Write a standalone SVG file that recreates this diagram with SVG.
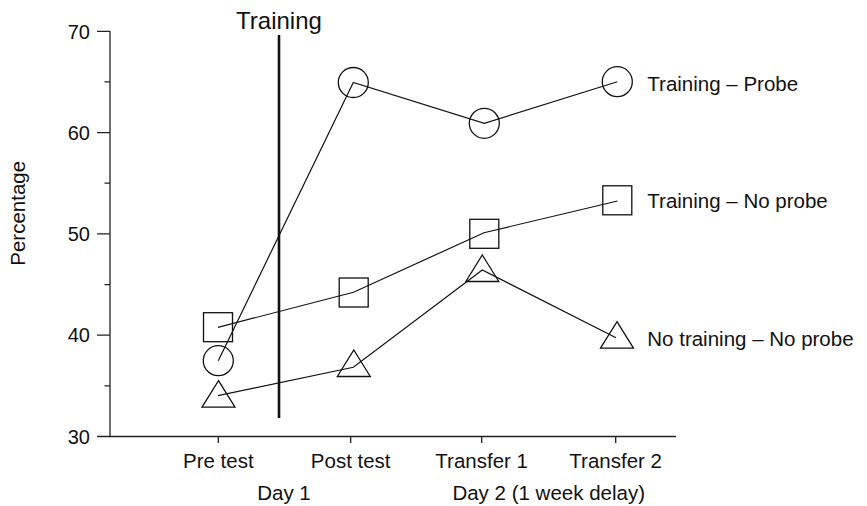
<svg xmlns="http://www.w3.org/2000/svg" width="867" height="506" viewBox="0 0 867 506">
<style>
text{font-family:"Liberation Sans",Arial,Helvetica,sans-serif;fill:#111}
.tick{font-size:20px}
.lbl{font-size:20.5px}
.axis{stroke:#222;stroke-width:1.3;fill:none}
.data{stroke:#111;stroke-width:1.2;fill:none}
.mk{stroke:#111;stroke-width:1.3;fill:none}
</style>
<defs>
<circle id="mc" r="15" class="mk"/>
<rect id="ms" x="-14.5" y="-14.5" width="29" height="29" class="mk"/>
<path id="mt" d="M0,-15 L16.5,11.5 L-16.5,11.5 Z" class="mk"/>
</defs>
<rect width="867" height="506" fill="#fff"/>
<g id="axes">
<path class="axis" d="M110,31.3 V436.5 H676"/>
<path class="axis" d="M97,31.3 H110 M104.5,81.9 H110 M97,132.6 H110 M104.5,183.2 H110 M97,233.9 H110 M104.5,284.6 H110 M97,335.2 H110 M104.5,385.9 H110 M97,436.5 H110"/>
<path class="axis" d="M218.3,436.5 V443 M350.7,436.5 V443 M481.7,436.5 V443 M615.7,436.5 V443"/>
<g class="tick" text-anchor="end">
<text x="90" y="38.5">70</text>
<text x="90" y="139.6">60</text>
<text x="90" y="240.9">50</text>
<text x="90" y="342.2">40</text>
<text x="90" y="443.5">30</text>
</g>
<g class="lbl" text-anchor="middle">
<text x="218.3" y="468.3">Pre test</text>
<text x="350.7" y="468.3">Post test</text>
<text x="481.7" y="468.3">Transfer 1</text>
<text x="615.7" y="468.3">Transfer 2</text>
<text x="284" y="500">Day 1</text>
<text x="548.7" y="500">Day 2 (1 week delay)</text>
</g>
<text class="lbl" text-anchor="middle" transform="translate(24.5,213.3) rotate(-90)">Percentage</text>
</g>
<g id="training-marker">
<line x1="279" y1="35" x2="279" y2="418" stroke="#111" stroke-width="2.6"/>
<text x="279" y="29.3" text-anchor="middle" font-size="24">Training</text>
</g>
<g id="connectors">
<polyline class="data" points="218.3,360.7 353.3,82.5 484.3,123.3 617.3,81.7"/>
<polyline class="data" points="218,327.3 353.5,292.3 484,232.7 617.5,201"/>
<polyline class="data" points="218,395.7 353.3,367.3 482.3,270 616,337.7"/>
</g>
<g id="training-probe">
<use href="#mc" x="218.3" y="360.7"/>
<use href="#mc" x="353.3" y="82.5"/>
<use href="#mc" x="484.3" y="123.3"/>
<use href="#mc" x="617.3" y="81.7"/>
<text class="lbl" x="647.3" y="90.7">Training – Probe</text>
</g>
<g id="training-no-probe">
<use href="#ms" x="218" y="327.2"/>
<use href="#ms" x="353.7" y="292.5"/>
<use href="#ms" x="484.3" y="233.8"/>
<use href="#ms" x="617.3" y="200.3"/>
<text class="lbl" x="647.3" y="208.3">Training – No probe</text>
</g>
<g id="no-training-no-probe">
<use href="#mt" x="218.5" y="395.7"/>
<use href="#mt" x="353.8" y="365"/>
<use href="#mt" x="482.3" y="270"/>
<use href="#mt" x="617" y="336.7"/>
<text class="lbl" x="647.3" y="346">No training – No probe</text>
</g>
</svg>
